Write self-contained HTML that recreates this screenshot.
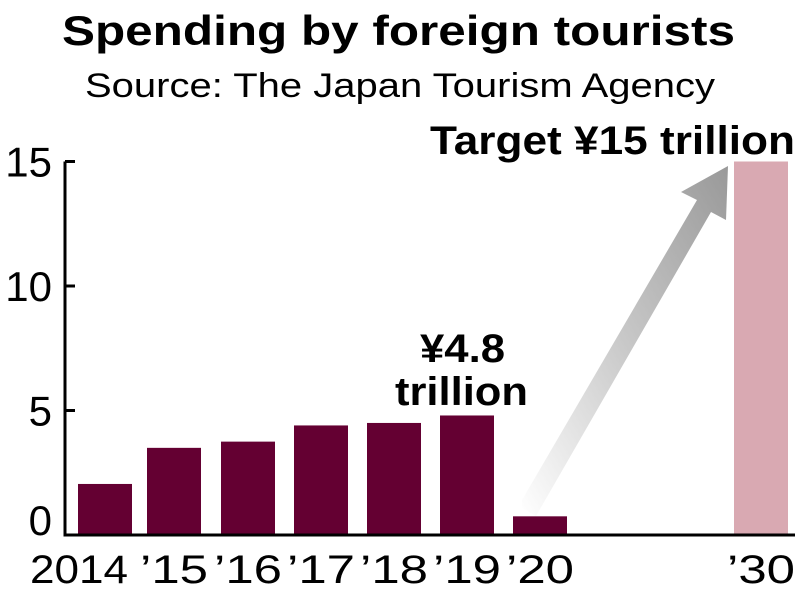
<!DOCTYPE html>
<html><head><meta charset="utf-8"><style>
body{margin:0;background:#fff;}
svg{display:block;font-family:"Liberation Sans",sans-serif;}
</style></head><body>
<svg width="800" height="592">
<defs><linearGradient id="ag" x1="0" y1="1" x2="1" y2="0">
<stop offset="0" stop-color="#ffffff"/><stop offset="0.5" stop-color="#c8c8c8"/><stop offset="1" stop-color="#999"/></linearGradient></defs>
<text x="62" y="45" font-size="42" font-weight="bold" textLength="673" lengthAdjust="spacingAndGlyphs">Spending by foreign tourists</text>
<text x="85" y="97" font-size="34" textLength="630" lengthAdjust="spacingAndGlyphs">Source: The Japan Tourism Agency</text>
<g id="plot"></g>
</svg>
<script>
const categories=["2014","’15","’16","’17","’18","’19","’20","’30"];
const values=[2.05,3.5,3.75,4.4,4.5,4.8,0.75,15];
const yTicks=[0,5,10,15];
const xPos=[105,174,248,321,394,467,540,761];
const y0=535,ppu=24.9;
function y(v){return y0-v*ppu;}
const ns="http://www.w3.org/2000/svg";
const g=document.getElementById("plot");
function mk(t,a,txt){const e=document.createElementNS(ns,t);for(const k in a)e.setAttribute(k,a[k]);if(txt!==undefined)e.textContent=txt;g.appendChild(e);return e;}
const ar=mk("path",{d:"M522,508 L536,516 L711,212 L726,220 L728,166 L681,192 L697,200 L522,500 Z",fill:"url(#ag)"});


values.forEach((v,i)=>{
 const r=mk("rect",{x:xPos[i]-27,y:y(v),width:54,height:y0-y(v),fill:i==7?"#d9a9b2":"#640032"});
 
 
 const w=i==0?98:68;
 const t=mk("text",{x:xPos[i]-(i==0?26:0)-(i==7?0:0),y:583,"text-anchor":"middle","font-size":40,textLength:w,lengthAdjust:"spacingAndGlyphs"},categories[i]);
 
 
});
const ax=mk("path",{d:`M65,${y(15)} V${y0} H795`,stroke:"#000","stroke-width":3,fill:"none"});


yTicks.forEach(v=>{
 const l=mk("line",{x1:65,x2:75,y1:y(v),y2:y(v),stroke:"#000","stroke-width":3});
 
 
 const t=mk("text",{x:52,y:y(v)+(v==0?0:15),"text-anchor":"end","font-size":42},String(v));
 
 
});
const a1=mk("text",{x:420,y:362,"font-size":40,"font-weight":"bold",textLength:85,lengthAdjust:"spacingAndGlyphs"},"¥4.8");


const a2=mk("text",{x:395,y:405,"font-size":40,"font-weight":"bold",textLength:133,lengthAdjust:"spacingAndGlyphs"},"trillion");


const a3=mk("text",{x:430,y:154,"font-size":40,"font-weight":"bold",textLength:365,lengthAdjust:"spacingAndGlyphs"},"Target ¥15 trillion");


</script>
</body></html>
